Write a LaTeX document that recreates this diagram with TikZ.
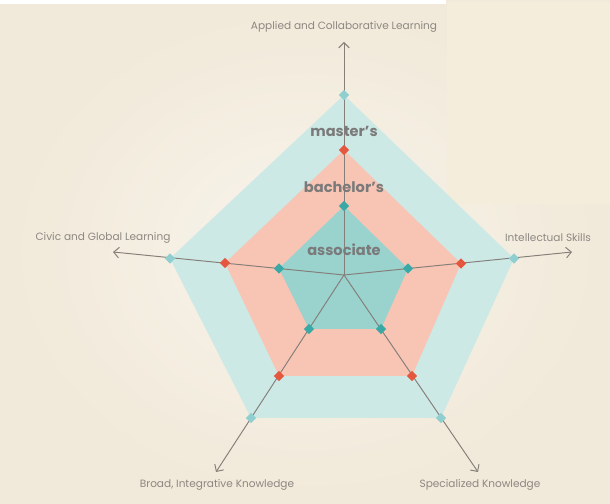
\documentclass[tikz,border=0pt]{standalone}
\usepackage{fontspec}
\setmainfont{Poppins}
\usetikzlibrary{shapes.geometric,arrows.meta}
\definecolor{creambg}{HTML}{F1E9D9}
\definecolor{creamlight}{HTML}{F8F4EC}
\definecolor{creampatch}{HTML}{F4EDDC}
\definecolor{outerfill}{HTML}{CDE9E6}
\definecolor{middlefill}{HTML}{F8C4B4}
\definecolor{innerfill}{HTML}{9AD2CE}
\definecolor{outermark}{HTML}{8FCFCF}
\definecolor{middlemark}{HTML}{E4573E}
\definecolor{innermark}{HTML}{3AA8A5}
\definecolor{axisgray}{HTML}{857F79}
\definecolor{labelgray}{HTML}{8C8781}
\definecolor{levelgray}{HTML}{7A7A7A}
\pgfdeclarelayer{paper}
\pgfdeclarelayer{bg}
\pgfsetlayers{paper,bg,main}
\tikzset{
  axisline/.style={draw=axisgray, line width=0.55pt, -{Straight Barb[length=3pt,width=6pt]}},
  dmark/.style={diamond, inner sep=0pt, minimum size=0.21cm},
  outerdmark/.style={dmark, fill=outermark},
  middledmark/.style={dmark, fill=middlemark},
  innerdmark/.style={dmark, fill=innermark},
  axislabel/.style={font=\fontsize{6}{7}\selectfont, text=labelgray},
  levellabel/.style={font=\bfseries\fontsize{8.3}{10}\selectfont, text=levelgray}
}

\begin{document}
\begin{tikzpicture}
\useasboundingbox (0,0) rectangle (12.2,10.08);
\coordinate (center) at (6.88,4.58);
\coordinate (appliedEnd) at (6.88,9.24);
\coordinate (civicEnd) at (2.26,5.04);
\coordinate (intellectualEnd) at (11.44,5.04);
\coordinate (broadEnd) at (4.32,0.64);
\coordinate (specializedEnd) at (9.56,0.64);
\node[outerdmark] (outerApplied) at (6.88,8.18) {};
\node[outerdmark] (outerIntellectual) at (10.28,4.91) {};
\node[outerdmark] (outerSpecialized) at (8.82,1.72) {};
\node[outerdmark] (outerBroad) at (5.02,1.72) {};
\node[outerdmark] (outerCivic) at (3.40,4.91) {};
\node[middledmark] (middleApplied) at (6.88,7.08) {};
\node[middledmark] (middleIntellectual) at (9.22,4.81) {};
\node[middledmark] (middleSpecialized) at (8.24,2.56) {};
\node[middledmark] (middleBroad) at (5.58,2.56) {};
\node[middledmark] (middleCivic) at (4.50,4.82) {};
\node[innerdmark] (innerApplied) at (6.88,5.96) {};
\node[innerdmark] (innerIntellectual) at (8.16,4.71) {};
\node[innerdmark] (innerSpecialized) at (7.62,3.50) {};
\node[innerdmark] (innerBroad) at (6.18,3.50) {};
\node[innerdmark] (innerCivic) at (5.58,4.71) {};
\node[axislabel] (applied) at (6.88,9.54) {Applied and Collaborative Learning};
\node[axislabel] (civic) at (2.06,5.32) {Civic and Global Learning};
\node[axislabel] (intellectual) at (10.96,5.32) {Intellectual Skills};
\node[axislabel] (broad) at (4.34,0.38) {Broad, Integrative Knowledge};
\node[axislabel] (specialized) at (9.60,0.38) {Specialized Knowledge};
\node[levellabel] (masters) at (6.88,7.46) {master’s};
\node[levellabel] (bachelors) at (6.88,6.34) {bachelor’s};
\node[levellabel] (associate) at (6.88,5.08) {associate};
\begin{pgfonlayer}{paper}
\shade[inner color=creamlight, outer color=creambg] (0,0) rectangle (12.2,10.08);
\fill[creampatch] (8.94,6.0) rectangle (12.2,10.04);
\fill[white] (0,10.0) rectangle (8.92,10.08);
\end{pgfonlayer}
\begin{pgfonlayer}{bg}
\fill[outerfill] (outerApplied.center) -- (outerIntellectual.center) -- (outerSpecialized.center) -- (outerBroad.center) -- (outerCivic.center) -- cycle;
\fill[middlefill] (middleApplied.center) -- (middleIntellectual.center) -- (middleSpecialized.center) -- (middleBroad.center) -- (middleCivic.center) -- cycle;
\fill[innerfill] (innerApplied.center) -- (innerIntellectual.center) -- (innerSpecialized.center) -- (innerBroad.center) -- (innerCivic.center) -- cycle;
\draw[axisline] (center) -- (appliedEnd);
\draw[axisline] (center) -- (civicEnd);
\draw[axisline] (center) -- (intellectualEnd);
\draw[axisline] (center) -- (broadEnd);
\draw[axisline] (center) -- (specializedEnd);
\end{pgfonlayer}
\end{tikzpicture}
\end{document}
